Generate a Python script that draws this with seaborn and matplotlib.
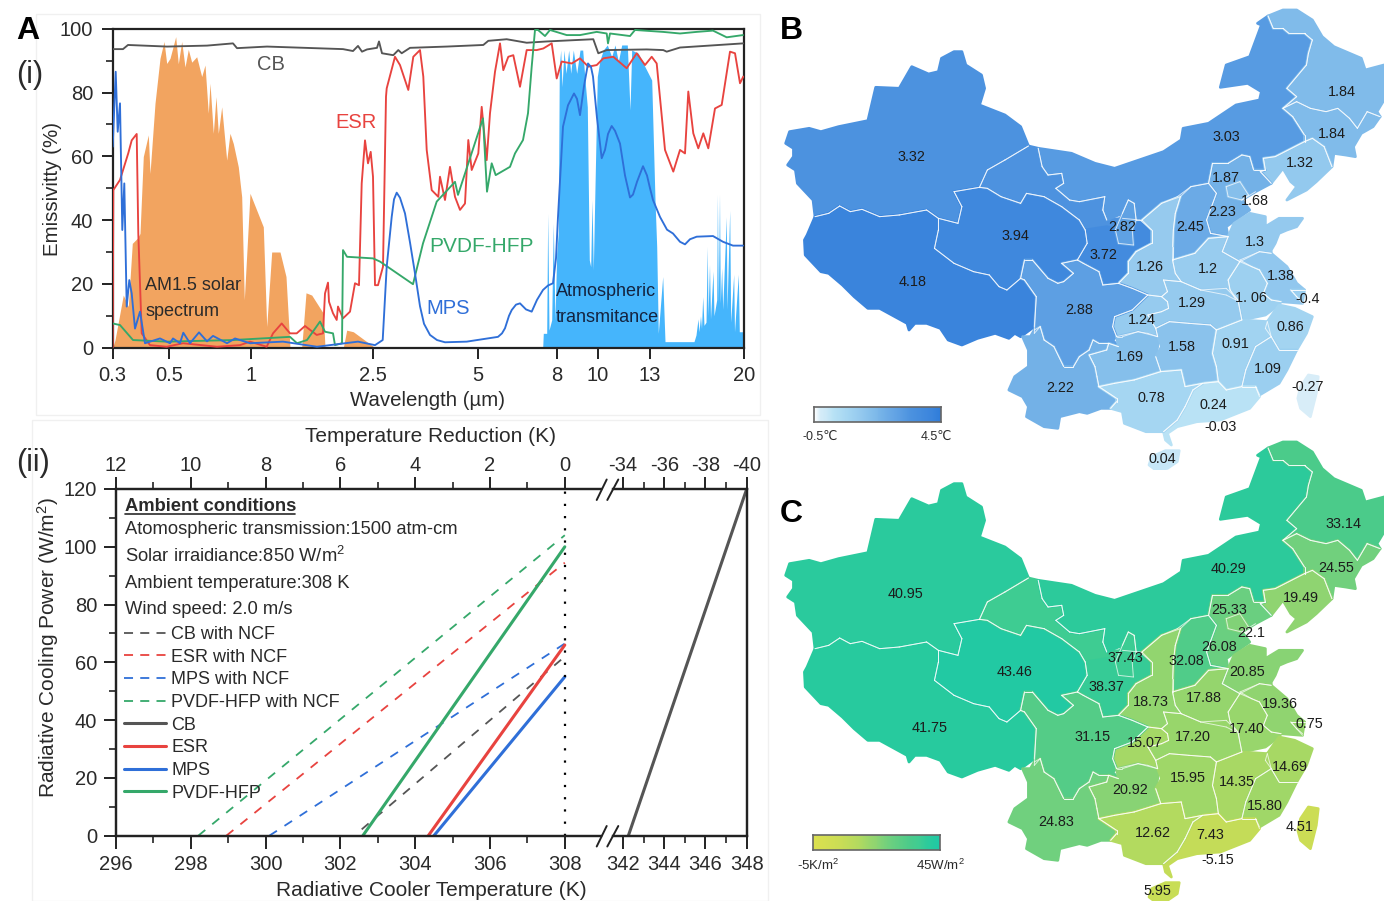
import numpy as np
import matplotlib
matplotlib.use("Agg")
import matplotlib.pyplot as plt
import seaborn as sns
from matplotlib.colors import LinearSegmentedColormap
from matplotlib.lines import Line2D
from matplotlib.patches import Rectangle
from matplotlib.path import Path
from matplotlib.ticker import FixedLocator

# ---------- panel A(i): spectra, read along the (warped) wavelength axis ----------
wave_ticks = [0.3, 0.5, 1, 2.5, 5, 8, 10, 13, 20]
wave_tick_pos = [112.7, 169, 251, 373, 478, 557, 598, 650, 744]

cb_pos = [112.7,123,128,167,207,233,237,267,343,353,358,362,367,377,379,382,393.3,398.3,401.7,410,446.7,483.3,488.3,506.7,526.7,546.7,593.3,598.3,606.7,646.7,663.3,666.7,680,743.3]
cb_val = [93.6,93.6,94.9,94.4,94.7,95.4,93.9,94.4,93.6,93,94.6,92.8,93.5,94,96,92.3,91.7,93.3,92.3,94,94.4,94.9,96.2,96.7,95.6,96,96.7,92.3,93.3,93.5,93.3,92.8,94.1,95.4]

esr_pos = [112.7,113.3,120,128.3,131.7,136.7,138.3,141.7,150,166.7,183,217,240,250,266.7,273,281.7,290,296.7,305,316.7,323,325,328,329,333,336.7,338,343,350,355,359,361.7,365,368,370.7,373,375,378,383,386,386.7,395,400,408.3,413.3,420,423.3,426.7,431.7,438.3,440,445,450,455,460,465,468.3,471.7,478.3,481.7,486.7,490,495,500,503.3,508.3,513.3,520,526.7,536.7,543.3,551.7,556.7,561.7,571.7,580,588.3,596.7,603.3,613.3,626.7,636.7,645,651.7,656.7,665,673.3,680,685,688.3,693.3,698.3,703.3,708.3,715,721.7,730,735,740,743.3]
esr_val = [0,49.4,52.6,61,65,67,35.8,4.5,.8,.3,1.4,.3,.8,1.9,.3,4.5,7.6,4.5,4.5,6.8,4,4.5,17,20.4,14.4,10.8,8.7,12.9,9.2,11.3,20.2,19.6,51.5,65,57.8,61.4,53.6,19.6,19.6,25.4,78.7,81.3,91.2,88.6,80.8,91.2,93.3,85,62,49.4,47.3,53.6,46.3,56.7,47.3,43.2,45.2,65.1,55.7,60.9,75.5,58.8,73.5,86.5,95.4,87,91.2,91.7,81.8,93.3,93.3,93.8,95.4,84.4,89.7,89.1,90.7,88.1,88.6,90.7,91.2,87.6,92.3,88.6,91.2,89.1,62,55.2,62,60.9,80.3,67.2,62.5,67.2,62.5,75,76.1,92.8,92.3,82.9,85]

mps_pos = [112.7,115.7,117.7,120,122.3,124.3,126.7,129.3,131.7,135,140,145,160,170,173,180,183.3,190,199,207,213,227,235,250,283,317,358,375,382.7,386.7,391.7,394,396.7,400,405,410,415,420,424,430,437,445,466.7,498,502,505,509,511.7,516,520,526,531.7,537,543,548,553,556,558,563,568,574,577,580,584,588,591,593,597,601.7,605,608,611.7,615,620,625,630,633,637,643,647,650,653,660,667,673,680,685,690,696.7,713,723,733,743]
mps_val = [63,86.5,67.7,76.6,36.9,51.5,12.9,21.2,17,6,11.3,1.4,2.9,1.4,2.9,1.4,4.7,1.4,4.8,2,3.7,1.4,2.9,1.4,1.9,.3,1.9,.8,2.4,25.4,41,46.5,48.6,47,42.1,33,23.3,13,7.5,4,2.4,1.7,1.9,3.4,4.5,6.1,10,11.8,13.5,13.9,12,11.3,15,18.1,19.5,20.2,28,41,69.3,76,79.7,78,72.9,82,89.1,88,85,72,59.4,62,67,69.5,68,64,54,47.1,48,52,56.9,54,50,46.3,41,37,35.8,33.2,32.4,34,34.8,35,33.2,32,32]

pvdf_pos = [112.7,120,133,167,233,290,297,307,320,325,333,335,342,343,347,373,380,413,423,436.7,455,458,483,487,491.7,495.7,510,515,523,528,531.7,535,538,545,550,566.7,580,596.7,606.7,608,610,630,635,663,680,696.7,713,726.7,743]
pvdf_val = [7.6,7.1,2.4,1.9,2.4,3.4,1.4,2.4,8.2,5,4.5,.8,1.4,30.6,28.5,28,27,19.9,32.7,45.8,52,47.9,71.9,48.9,57.8,54.1,56.7,60.9,65.1,73.5,88.1,99.6,99.6,97.7,99.6,98,98,99,98.5,95.4,98.5,97.7,99.6,99,98.5,99,99.4,97.3,98]

solar_pos = [112.7,115,123.3,128.3,132.3,137.3,140,143.3,148.3,150,155,160,164,166.7,170,175.7,178.3,181.7,185,188.3,191.7,196.7,201.7,205,208.3,210,213.3,216,218.3,221.7,226.7,230,233.3,238.3,241.7,244.3,250,263.3,266.7,271.7,280,286,290,301.7,306,311.7,323.3,325,343.3,346.7,353.3,375]
solar_val = [0,2.4,16.5,12.9,32.7,34.3,35.8,59.9,66.7,54.6,76.6,90.7,96,89.1,90.7,97.5,89,96,88,93.5,89.5,91.2,85,88.6,73.5,82.9,67.2,78.7,67.2,75.5,58.8,67.2,64,56.7,47.3,15,48.4,37.9,6.6,30,30,22.3,0,0,17.2,16.5,10.8,0,0,5.5,5,0]

atm_pos = [542.7,543.3,546.7,547.7,549,551.7,553.3,555,556.7,558.3,559.3,560.7,562,564,566,568.7,570.7,573.3,576.7,580,582.7,585,587.3,589.3,590.7,592,593.3,595,597.3,600,603.3,607.3,611.7,615,618.3,621.7,627.3,630,631.7,638.3,643.3,646.7,651.7,655,656.7,658.3,662.7,665,694,696,698,699,700.5,701.5,702.7,704,706,707.3,708,709.5,710.5,713,714,716.7,717.4,718.3,719.5,720.3,721.7,722.7,726.3,727,729.7,730.7,733.7,734.5,738.3,739.3,741,742.7,743]
atm_val = [0,4.5,4.5,42,5.5,8.7,39,8.7,29.6,36,88,93.3,81.8,93.3,86,93.3,86,93.3,86,93.3,93.3,84,75.5,27.5,25.4,46.3,24.3,50.5,85,90.2,93.3,94.9,91.2,94.9,89.7,94.9,94.9,74.5,93.3,92.3,89.1,87,83.9,46.3,31.7,4.5,22.3,1.9,1.9,4,9,5,10,6,16,7,8,31.7,10,26,9,24,10,15,48,14,48,14,25,12,41,12,43,8,23,5,23,5,5,5,0]

# ---------- panel A(ii): cooling-power lines ----------
cooler_solid = {"CB": ([342.26, 348], [0, 120]), "ESR": ([304.35, 308], [0, 66]),
                "MPS": ([304.5, 308], [0, 55]), "PVDF-HFP": ([302.6, 308], [0, 100])}
cooler_dash = {"CB": ([302.57, 308], [2.2, 62]), "ESR": ([298.95, 308], [0, 94.5]),
               "MPS": ([300.1, 308], [0, 66.5]), "PVDF-HFP": ([298.2, 308], [0, 104])}

# ---------- panels B, C: province outlines (map units) and values ----------
prov_names = ["Xinjiang","Tibet","Qinghai","GansuW","GansuE","InnerMongolia","Heilongjiang","Jilin","Liaoning","Hebei","Beijing","Ningxia","Shanxi","Shaanxi","Henan","Shandong","Jiangsu","Shanghai","Anhui","Hubei","Chongqing","Sichuan","Yunnan","Guizhou","Hunan","Jiangxi","Zhejiang","Fujian","Guangdong","Guangxi","Hainan","Taiwan"]
temp_vals = [3.32,4.18,3.94,3.3,3.72,3.03,1.84,1.84,1.32,2.23,1.68,2.82,2.45,1.26,1.2,1.3,1.38,1.1,1.06,1.29,1.24,2.88,2.22,1.69,1.58,.91,.86,1.09,.24,.78,.04,-.27]
power_vals = [40.95,41.75,43.46,37.0,38.37,40.29,33.14,24.55,19.49,26.08,22.1,37.43,32.08,18.73,17.88,20.85,19.36,18.0,17.40,17.20,15.07,31.15,24.83,20.92,15.95,14.35,14.69,15.80,7.43,12.62,5.95,4.51]
prov_outlines = [
 [(40,430),(50,395),(100,385),(130,395),(175,380),(250,362),(270,262),(330,265),(362,200),(405,222),(430,215),(438,175),(470,155),(490,155),(500,195),(540,225),(548,265),(535,315),(600,345),(640,380),(660,438),(650,445),(600,480),(555,510),(535,562),(470,575),(490,620),(480,670),(430,655),(400,630),(330,645),(280,650),(235,628),(205,635),(178,618),(150,640),(115,650),(110,600),(70,550),(65,510),(45,495),(60,470),(60,445)],
 [(115,650),(150,640),(178,618),(205,635),(235,628),(280,650),(330,645),(400,630),(430,655),(430,690),(420,745),(470,790),(520,815),(560,825),(585,860),(605,870),(640,835),(650,840),(680,890),(675,980),(640,1010),(625,1000),(610,1015),(575,1000),(530,1015),(490,1035),(455,1020),(435,985),(400,970),(370,970),(355,990),(350,970),(280,925),(250,925),(215,890),(185,855),(150,820),(130,815),(90,765),(88,720),(95,705)],
 [(430,655),(480,670),(490,620),(470,575),(535,562),(555,565),(590,590),(640,610),(655,580),(700,590),(745,620),(790,660),(805,690),(810,730),(785,780),(745,790),(775,820),(750,845),(735,850),(710,835),(670,780),(650,780),(640,835),(605,870),(585,860),(560,825),(520,815),(470,790),(420,745),(430,690)],
 [(660,438),(685,445),(695,500),(710,525),(745,520),(750,550),(730,565),(765,600),(790,605),(855,590),(850,630),(860,660),(900,655),(945,660),(975,690),(975,730),(935,755),(915,785),(915,820),(890,850),(850,855),(840,815),(800,790),(785,780),(810,730),(805,690),(790,660),(745,620),(700,590),(655,580),(640,610),(590,590),(555,565),(535,562),(555,510),(600,480),(650,445)],
 [(805,690),(860,680),(885,690),(945,660),(975,690),(975,730),(935,755),(915,785),(915,820),(890,850),(850,855),(840,815),(800,790),(785,780),(810,730)],
 [(685,445),(770,460),(830,490),(880,505),(930,485),(1005,455),(1050,420),(1055,385),(1120,370),(1190,315),(1250,300),(1255,275),(1220,250),(1150,262),(1165,195),(1225,170),(1255,75),(1245,70),(1272,48),(1285,85),(1310,85),(1325,100),(1365,100),(1385,120),(1375,160),(1370,195),(1320,265),(1345,290),(1310,325),(1335,350),(1365,405),(1365,425),(1290,470),(1260,475),(1265,510),(1235,510),(1225,470),(1205,465),(1170,490),(1130,490),(1120,550),(1075,560),(1040,590),(1000,610),(950,660),(935,660),(930,610),(915,600),(900,640),(860,660),(850,630),(855,590),(790,605),(765,600),(730,565),(750,550),(745,520),(710,525),(695,500)],
 [(1272,48),(1310,30),(1345,30),(1385,60),(1410,110),(1440,140),(1510,175),(1520,210),(1568,195),(1568,300),(1550,335),(1558,350),(1525,335),(1500,385),(1480,355),(1450,325),(1420,335),(1380,325),(1345,305),(1310,325),(1345,290),(1320,265),(1370,195),(1375,160),(1385,120),(1365,100),(1325,100),(1310,85),(1285,85)],
 [(1310,325),(1345,305),(1380,325),(1420,335),(1450,325),(1480,355),(1500,385),(1525,335),(1558,350),(1540,380),(1510,400),(1490,440),(1495,470),(1470,465),(1440,460),(1435,500),(1415,440),(1385,415),(1365,425),(1365,405),(1335,350)],
 [(1365,425),(1385,415),(1415,440),(1435,500),(1395,545),(1370,570),(1320,600),(1345,560),(1330,545),(1310,505),(1280,550),(1252,515),(1265,510),(1260,475),(1290,470)],
 [(1130,490),(1170,490),(1205,465),(1225,470),(1235,510),(1265,510),(1252,515),(1280,550),(1240,575),(1205,600),(1225,630),(1165,680),(1170,710),(1125,700),(1115,660),(1140,580),(1120,550)],
 [(1165,560),(1200,545),(1222,585),(1205,600),(1170,590)],
 [(915,600),(930,610),(935,660),(925,690),(928,735),(890,730),(882,690),(900,640)],
 [(1120,550),(1140,580),(1115,660),(1125,700),(1170,710),(1120,715),(1085,760),(1028,780),(1028,740),(1030,690),(1035,640),(1048,590),(1075,560)],
 [(1000,610),(1048,590),(1035,640),(1030,690),(1028,780),(1035,820),(1050,845),(1005,840),(1015,875),(1000,890),(965,885),(925,865),(890,850),(915,820),(915,785),(935,755),(975,730),(975,690),(950,660)],
 [(1028,780),(1085,760),(1120,715),(1170,710),(1155,755),(1200,785),(1170,840),(1175,870),(1190,900),(1165,885),(1100,870),(1050,845),(1035,820)],
 [(1170,710),(1185,670),(1225,640),(1265,650),(1265,680),(1300,655),(1360,655),(1345,680),(1320,690),(1300,700),(1290,730),(1280,750),(1280,760),(1250,755),(1200,785),(1155,755)],
 [(1200,780),(1250,755),(1280,760),(1300,780),(1320,800),(1345,850),(1365,870),(1330,870),(1345,890),(1360,910),(1305,905),(1280,900),(1260,880),(1270,850),(1250,810),(1230,800)],
 [(1330,870),(1365,870),(1360,905),(1345,890)],
 [(1200,785),(1230,800),(1250,810),(1270,850),(1260,880),(1280,900),(1305,905),(1300,915),(1265,945),(1205,960),(1195,900),(1175,870),(1170,840)],
 [(1005,840),(1050,845),(1100,870),(1165,865),(1195,900),(1205,960),(1140,990),(1125,975),(1070,970),(1020,965),(985,985),(965,945),(1000,935),(1018,925),(1015,905),(1000,890),(1015,875)],
 [(965,885),(1000,890),(1015,905),(1018,925),(1000,935),(965,945),(985,985),(990,1010),(965,1000),(940,995),(900,1010),(885,1010),(875,980),(880,950),(925,930)],
 [(640,835),(650,780),(670,780),(710,835),(735,850),(750,845),(775,820),(745,790),(785,780),(800,790),(840,815),(850,855),(890,850),(925,865),(965,885),(925,930),(880,950),(875,980),(885,1010),(875,1020),(890,1040),(865,1030),(840,1030),(825,1020),(815,1050),(790,1070),(775,1100),(750,1100),(725,1040),(700,1020),(690,980),(675,1000),(680,890),(650,840)],
 [(645,1010),(665,1010),(675,990),(690,980),(700,1020),(725,1040),(750,1100),(775,1100),(790,1070),(815,1050),(825,1020),(840,1030),(865,1030),(860,1050),(815,1065),(830,1100),(835,1130),(840,1160),(885,1195),(885,1205),(870,1225),(845,1225),(810,1240),(790,1235),(740,1250),(735,1285),(700,1280),(655,1250),(660,1220),(645,1190),(610,1170),(625,1130),(660,1100),(660,1050)],
 [(815,1065),(860,1050),(865,1030),(890,1040),(885,1010),(940,995),(990,1010),(990,1040),(985,1070),(998,1115),(930,1140),(880,1150),(840,1160),(830,1100)],
 [(985,985),(1020,965),(1070,970),(1125,975),(1140,990),(1130,1060),(1140,1100),(1145,1145),(1105,1150),(1060,1160),(1050,1110),(998,1115),(985,1070),(1000,1040),(990,1010)],
 [(1140,990),(1205,960),(1270,965),(1280,1010),(1240,1040),(1215,1110),(1205,1160),(1165,1170),(1145,1145),(1140,1100),(1130,1060)],
 [(1300,915),(1340,925),(1385,950),(1370,1000),(1345,1050),(1300,1050),(1280,1010),(1265,985),(1270,965)],
 [(1280,1010),(1300,1050),(1345,1050),(1320,1110),(1300,1150),(1250,1185),(1240,1160),(1205,1160),(1215,1110),(1240,1040)],
 [(1105,1150),(1145,1145),(1165,1170),(1205,1160),(1240,1160),(1250,1190),(1225,1225),(1150,1260),(1090,1265),(1040,1280),(1015,1300),(1025,1335),(1010,1320),(1005,1295),(1040,1260),(1060,1220),(1080,1170)],
 [(840,1160),(880,1150),(930,1140),(998,1115),(1050,1110),(1060,1160),(1105,1150),(1080,1170),(1060,1220),(1040,1260),(1005,1295),(960,1295),(905,1270),(900,1235),(870,1225),(885,1205),(885,1195)],
 [(975,1370),(1010,1352),(1045,1352),(1040,1385),(1015,1405),(985,1410),(968,1395)],
 [(1375,1125),(1400,1130),(1395,1180),(1380,1250),(1355,1225),(1348,1195),(1355,1160)],
]
temp_labels = ["3.32","3.03","1.84","1.84","1.32","1.87","1.68","2.23","2.45","2.82","3.94","1.3","3.72","1.26","1.2","1.38","4.18","1. 06","-0.4","1.29","2.88","1.24","0.86","0.91","1.58","1.69","1.09","-0.27","2.22","0.78","0.24","-0.03","0.04"]
temp_label_xy = [(360,470),(1165,410),(1460,275),(1435,403),(1353,490),(1165,535),(1237,603),(1155,635),(1073,680),(900,680),(628,708),(1238,725),(852,765),(970,802),(1118,808),(1305,828),(363,845),(1228,893),(1373,898),(1077,910),(790,930),(950,960),(1330,982),(1188,1033),(1053,1040),(918,1070),(1272,1108),(1372,1162),(740,1165),(975,1195),(1133,1215),(1150,1280),(1003,1378)]
power_labels = ["40.95","40.29","33.14","24.55","19.49","25.33","22.1","26.08","32.08","37.43","43.46","20.85","38.37","18.73","17.88","19.36","41.75","17.40","0.75","17.20","31.15","15.07","14.69","14.35","15.95","20.92","15.80","4.51","24.83","12.62","7.43","-5.15","5.95"]
power_label_xy = [(347,486),(1172,411),(1465,277),(1445,407),(1355,497),(1172,534),(1230,604),(1147,644),(1063,686),(907,679),(625,721),(1218,721),(858,766),(972,809),(1108,799),(1303,817),(408,889),(1217,892),(1377,876),(1080,914),(825,916),(957,934),(1327,1004),(1192,1051),(1068,1039),(920,1074),(1263,1122),(1353,1186),(730,1171),(977,1202),(1125,1209),(1143,1284),(990,1377)]

# ---------- setup ----------
W, H = 1384, 901
sns.set_theme(style="ticks")
plt.rcParams["font.family"] = ["Liberation Sans", "DejaVu Sans"]
plt.rcParams["mathtext.default"] = "regular"
plt.rcParams["mathtext.fontset"] = "custom"
plt.rcParams["mathtext.rm"] = "Liberation Sans"
fig = plt.figure(figsize=(W / 100, H / 100), dpi=100, facecolor="white")

def axes_px(x0, y0, x1, y1, **kw):
    return fig.add_axes([x0 / W, 1 - y1 / H, (x1 - x0) / W, (y1 - y0) / H], **kw)

def text_px(x, y, s, **kw):
    kw.setdefault("ha", "left"); kw.setdefault("va", "center"); kw.setdefault("color", "#2a2a2a")
    return fig.text(x / W, 1 - (y + 1) / H, s, **kw)

def line_px(xs, ys, **kw):
    fig.add_artist(Line2D([x / W for x in xs], [1 - y / H for y in ys], transform=fig.transFigure, **kw))

# faint panel frames
for (x0, y0, x1, y1) in [(36, 14, 760, 415), (32, 420, 768, 901)]:
    fig.add_artist(Rectangle((x0 / W, 1 - y1 / H), (x1 - x0) / W, (y1 - y0) / H, transform=fig.transFigure,
                             fill=False, ec="#f0f0f0", lw=1, zorder=-5))

TXT = "#2a2a2a"
C_CB, C_ESR, C_MPS, C_PV = "#555555", "#e8433f", "#2f6fd8", "#35a86a"

def style(ax):
    for s in ax.spines.values():
        s.set_linewidth(1.6); s.set_color("#222222")
    ax.set_facecolor("none")

# ---------- A(i) ----------
log_t = np.log(wave_ticks)
def to_pos(w):
    return np.interp(np.log(np.clip(w, 0.05, 100)), log_t, wave_tick_pos)
def from_pos(p):
    return np.exp(np.interp(p, wave_tick_pos, log_t))

ax = axes_px(112.7, 28.7, 744, 347.7)
style(ax)
ax.set_xscale("function", functions=(to_pos, from_pos))
ax.set_xlim(0.3, 20); ax.set_ylim(0, 100)
ax.fill_between(from_pos(np.array(solar_pos)), solar_val, 0, color="#f2a460", lw=0, zorder=1)
ax.fill_between(from_pos(np.array(atm_pos)), atm_val, 0, color="#45b5fc", lw=0, zorder=1)
for p, v, c in [(cb_pos, cb_val, C_CB), (esr_pos, esr_val, C_ESR), (pvdf_pos, pvdf_val, C_PV), (mps_pos, mps_val, C_MPS)]:
    sns.lineplot(x=from_pos(np.array(p)), y=v, ax=ax, color=c, lw=1.35, sort=False, estimator=None, errorbar=None, zorder=3)
ax.xaxis.set_major_locator(FixedLocator(wave_ticks))
ax.xaxis.set_minor_locator(FixedLocator([]))
ax.set_xticklabels(["0.3", "0.5", "1", "2.5", "5", "8", "10", "13", "20"])
ax.set_yticks(range(0, 101, 20))
ax.set_yticks(range(10, 100, 20), minor=True)
ax.tick_params(axis="both", which="major", length=8, width=1.4, labelsize=14.5, labelcolor=TXT, color="#222222")
ax.tick_params(axis="x", which="major", pad=5)
ax.tick_params(axis="y", which="major", pad=6)
ax.tick_params(axis="y", which="minor", length=5, width=1.2, color="#222222")
ax.set_xlabel(""); ax.set_ylabel("")
text_px(428, 399, "Wavelength (µm)", fontsize=14.7, ha="center")
text_px(52, 188, "Emissivitty (%)", fontsize=14.8, ha="center", rotation=90)
text_px(257, 63, "CB", fontsize=14.5, color="#555555")
text_px(335, 121, "ESR", fontsize=14.5, color=C_ESR)
text_px(429, 245, "PVDF-HFP", fontsize=15, color=C_PV)
text_px(426, 307, "MPS", fontsize=14.5, color=C_MPS)
text_px(145, 285, "AM1.5 solar", fontsize=13, color="#2a2a2a")
text_px(145, 310, "spectrum", fontsize=13, color="#2a2a2a")
text_px(556, 291, "Atmospheric", fontsize=13, color="#14233f")
text_px(556, 316, "transmitance", fontsize=13, color="#14233f")
text_px(16, 30, "A", fontsize=23, fontweight="bold", color="black")
text_px(16, 74, "(i)", fontsize=22)
text_px(16, 462, "(ii)", fontsize=22)

# ---------- A(ii) ----------
ax1 = axes_px(116, 489, 601, 835.7)
ax2 = axes_px(613, 489, 746.7, 835.7)
style(ax1); style(ax2)
ax1.set_xlim(296, 296 + (601 - 116) / 37.4); ax1.set_ylim(0, 120)
ax2.set_xlim(342 - 10 / 20.6, 348); ax2.set_ylim(0, 120)
ax1.spines["right"].set_visible(False); ax2.spines["left"].set_visible(False)

colors = {"CB": C_CB, "ESR": C_ESR, "MPS": C_MPS, "PVDF-HFP": C_PV}
dash = (0, (5, 5))
for k, (xs, ys) in cooler_dash.items():
    sns.lineplot(x=xs, y=ys, ax=ax1, color=colors[k], lw=1.3, linestyle=dash, estimator=None, errorbar=None)
for k in ["ESR", "MPS", "PVDF-HFP"]:
    xs, ys = cooler_solid[k]
    sns.lineplot(x=xs, y=ys, ax=ax1, color=colors[k], lw=2.2, estimator=None, errorbar=None)
xs, ys = cooler_solid["CB"]
sns.lineplot(x=xs, y=ys, ax=ax2, color=C_CB, lw=2.2, estimator=None, errorbar=None)
ax1.plot([308, 308], [0, 120], color="black", lw=1.6, ls=(0, (1, 4.5)))

ax1.set_xlabel(""); ax1.set_ylabel(""); ax2.set_xlabel(""); ax2.set_ylabel("")
ax1.set_xticks(range(296, 309, 2)); ax1.set_xticks(range(297, 308, 2), minor=True)
ax1.set_yticks(range(0, 121, 20)); ax1.set_yticks(range(10, 120, 20), minor=True)
ax2.set_xticks(range(342, 349, 2)); ax2.set_xticks(range(343, 348, 2), minor=True)
ax2.set_yticks([])
for a, top_t, top_l in [(ax1, range(296, 309, 2), [str(v) for v in range(12, -1, -2)]),
                        (ax2, range(342, 349, 2), ["-34", "-36", "-38", "-40"])]:
    a.tick_params(axis="both", which="major", length=9, width=1.4, labelsize=14.5, labelcolor=TXT, color="#222222")
    a.tick_params(axis="x", which="major", pad=5)
    a.tick_params(axis="y", which="major", pad=4.5)
    a.tick_params(axis="both", which="minor", length=5, width=1.2, color="#222222")
    t = a.twiny()
    t.set_xlim(a.get_xlim())
    t.set_xticks(list(top_t)); t.set_xticklabels(top_l)
    t.set_xticks([v + 1 for v in list(top_t)[:-1]], minor=True)
    t.tick_params(axis="x", which="major", length=9, width=1.4, labelsize=14.5, labelcolor=TXT, color="#222222", pad=1)
    t.tick_params(axis="x", which="minor", length=5, width=1.2, color="#222222")
    style(t)
    t.spines["left"].set_visible(a is ax1); t.spines["right"].set_visible(a is ax2)

text_px(431, 435, "Temperature Reduction (K)", fontsize=15, ha="center")
text_px(431, 889, "Radiative Cooler Temperature (K)", fontsize=15, ha="center")
text_px(48, 647, "Radiative Cooling Power (W/m$^2$)", fontsize=15, ha="center", rotation=90)

for yy in [(500, 479.5), (846.5, 826)]:
    line_px([596.7, 606.7], yy, color="#222222", lw=1.4)
    line_px([607.3, 618.3], yy, color="#222222", lw=1.4)

text_px(125, 505, "Ambient conditions", fontsize=13.2, fontweight="bold")
line_px([125, 295], [514, 514], color="#2a2a2a", lw=1.2)
text_px(125, 529, "Atomospheric transmission:1500 atm-cm", fontsize=13.2)
text_px(125, 555, "Solar irraidiance:850 W/m$^2$", fontsize=13.2)
text_px(125, 583, "Ambient temperature:308 K", fontsize=13.2)
text_px(125, 609, "Wind speed: 2.0 m/s", fontsize=13.2)

handles = [Line2D([], [], color=colors[k], lw=1.3, ls=(0, (5, 4))) for k in colors] + \
          [Line2D([], [], color=colors[k], lw=2.2) for k in colors]
labels = [k + " with NCF" for k in colors] + list(colors)
leg = ax1.legend(handles, labels, loc="upper left", bbox_to_anchor=(124 / W, 1 - 626 / H),
                 bbox_transform=fig.transFigure, frameon=False, fontsize=13, borderpad=0, borderaxespad=0,
                 handlelength=2.33, handletextpad=0.28, labelspacing=0.315, labelcolor=TXT)

# ---------- B, C maps ----------
def make_cmap(nodes):
    return LinearSegmentedColormap.from_list("m", nodes)

temp_cmap = make_cmap([(0, "#ffffff"), (.046, "#d5ecf8"), (.094, "#cbe8f7"), (.148, "#b8e2f5"), (.256, "#a5d6f2"),
                       (.34, "#98ccef"), (.468, "#80bbea"), (.676, "#5d9fe3"), (.764, "#4c92df"), (.936, "#3a84dc"), (1, "#2f7cd9")])
power_cmap = make_cmap([(0, "#dce04e"), (.2, "#cbdd55"), (.352, "#b3da5f"), (.44, "#99d66b"), (.5, "#8dd472"), (.6, "#6fd07e"),
                        (.76, "#4ccb8a"), (.84, "#3fcc92"), (.9, "#2dca9a"), (1, "#1ec9a6")])

# only borders shared with a neighbour get the pale line; the coast stays clean
paths = [Path(p) for p in prov_outlines]
inner_segments = []
for i, poly in enumerate(prov_outlines):
    if prov_names[i] == "GansuE":
        continue
    ring = poly + poly[:1]
    for a_, b_ in zip(ring[:-1], ring[1:]):
        mid = ((a_[0] + b_[0]) / 2, (a_[1] + b_[1]) / 2)
        if any(j != i and prov_names[j] != "GansuE" and (paths[j].contains_point(mid, radius=8) or
               paths[j].contains_point(mid, radius=-8)) for j in range(len(paths))):
            inner_segments.append((a_, b_))

def draw_map(y_off, vals, vmin, vmax, cmap, labels_, xy):
    m = axes_px(770, y_off, 1384, y_off + 470)
    m.set_xlim(0, 1568); m.set_ylim(1410, 0); m.axis("off"); m.patch.set_alpha(0)
    # outlines are stroked in their own colour, which closes small gaps between neighbours
    for poly, v in zip(prov_outlines, vals):
        px, py = zip(*poly)
        col = cmap((v - vmin) / (vmax - vmin))
        m.fill(px, py, fc=col, ec=col, lw=2.0, joinstyle="round", zorder=1)
    for a_, b_ in inner_segments:
        m.plot([a_[0], b_[0]], [a_[1], b_[1]], color=(1, 1, 1, 0.7), lw=0.7, zorder=2, solid_capstyle="round")
    for s, (x, y) in zip(labels_, xy):
        m.text(x, y, s, fontsize=10.4, color="#1c1c1c", ha="center", va="center", zorder=3)

draw_map(0, temp_vals, -0.5, 4.5, temp_cmap, temp_labels, temp_label_xy)
draw_map(432, power_vals, -5, 45, power_cmap, power_labels, power_label_xy)

def colorbar(x0, y0, x1, y1, cmap):
    c = axes_px(x0, y0, x1, y1)
    sns.heatmap(np.linspace(0, 1, 128).reshape(1, -1), ax=c, cmap=cmap, cbar=False, vmin=0, vmax=1,
                xticklabels=False, yticklabels=False)
    for s in c.spines.values():
        s.set_visible(True); s.set_color("#666666"); s.set_linewidth(1.2)

colorbar(814, 407, 941, 422, temp_cmap)
colorbar(813, 835, 940, 850, power_cmap)
text_px(820, 436, "-0.5℃", fontsize=9, ha="center")
text_px(936, 436, "4.5℃", fontsize=9, ha="center")
text_px(818, 864, "-5K/m$^2$", fontsize=9.5, ha="center")
text_px(940, 864, "45W/m$^2$", fontsize=9.5, ha="center")
text_px(780, 30, "B", fontsize=23, fontweight="bold", color="black")
text_px(780, 513, "C", fontsize=23, fontweight="bold", color="black")

fig.savefig("out.png", dpi=100, facecolor="white")
